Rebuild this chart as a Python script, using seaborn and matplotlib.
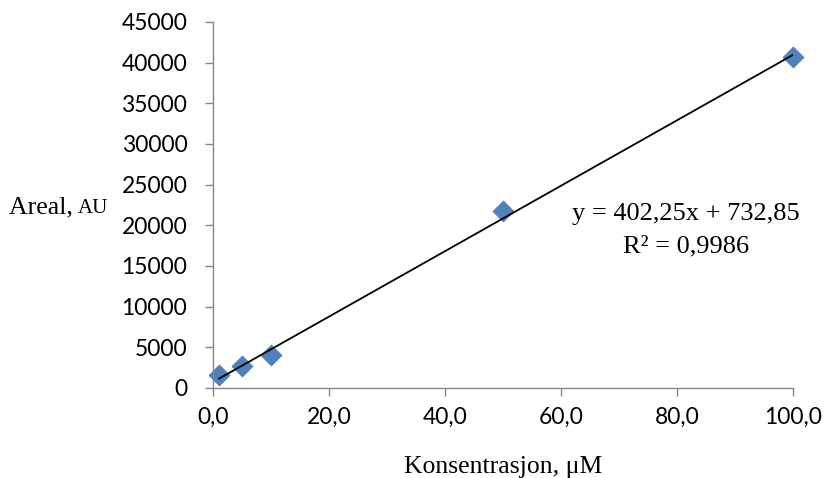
import numpy as np
import pandas as pd
import matplotlib
matplotlib.use("Agg")
import matplotlib.pyplot as plt
import seaborn as sns
from matplotlib.ticker import FuncFormatter, MultipleLocator

# Data
konsentrasjon = [1, 5, 10, 50, 100]
areal = [1600, 2700, 4000, 21800, 40700]
slope = 402.25
intercept = 732.85
r2_text = "R² = 0,9986"
eq_text = "y = 402,25x + 732,85"

sns.set_theme(style="white")
plt.rcParams['font.family'] = ['Lato', 'DejaVu Sans']

fig = plt.figure(figsize=(8.25, 4.78), dpi=100)
ax = fig.add_axes([213/825, 1-388/478, 580/825, 366/478])

df = pd.DataFrame({"x": konsentrasjon, "y": areal})
fit_x = [min(konsentrasjon), max(konsentrasjon)]
fit_df = pd.DataFrame({"x": fit_x, "y": [slope * v + intercept for v in fit_x]})

sns.lineplot(data=fit_df, x="x", y="y", ax=ax, color="black", linewidth=1.3, zorder=3)
sns.scatterplot(data=df, x="x", y="y", ax=ax, marker="D", s=115, color="#4F81BD",
                edgecolor="#4A7EBB", linewidth=0.5, zorder=2, clip_on=False)

ax.set_xlim(0, 100)
ax.set_ylim(0, 45000)
ax.xaxis.set_major_locator(MultipleLocator(20))
ax.yaxis.set_major_locator(MultipleLocator(5000))
ax.xaxis.set_major_formatter(FuncFormatter(lambda v, p: f"{v:.1f}".replace(".", ",")))
ax.yaxis.set_major_formatter(FuncFormatter(lambda v, p: f"{int(v)}"))

for s in ["top", "right"]:
    ax.spines[s].set_visible(False)
for s in ["left", "bottom"]:
    ax.spines[s].set_color("#868686")
    ax.spines[s].set_linewidth(1)
ax.tick_params(axis="both", which="major", direction="out", length=5.5, width=1,
               color="#868686", labelsize=16.5, labelcolor="black")
ax.tick_params(axis="x", bottom=True, pad=8)
ax.tick_params(axis="y", left=True, pad=13)
ax.set_xlabel("")
ax.set_ylabel("")

serif = ['Liberation Serif', 'DejaVu Serif']
fig.text(503/825, 1-473/478, "Konsentrasjon, μM", ha="center", va="baseline",
         fontsize=18.5, family=serif, color="black")
fig.text(9/825, 1-213/478, "Areal, ", ha="left", va="baseline",
         fontsize=18.5, family=serif, color="black")
fig.text(78/825, 1-213/478, "AU", ha="left", va="baseline",
         fontsize=15, family=serif, color="black")
fig.text(686/825, 1-220/478, eq_text, ha="center", va="baseline",
         fontsize=19, family=serif, color="black")
fig.text(686/825, 1-252/478, r2_text, ha="center", va="baseline",
         fontsize=19, family=serif, color="black")

fig.savefig("out.png", dpi=100)
